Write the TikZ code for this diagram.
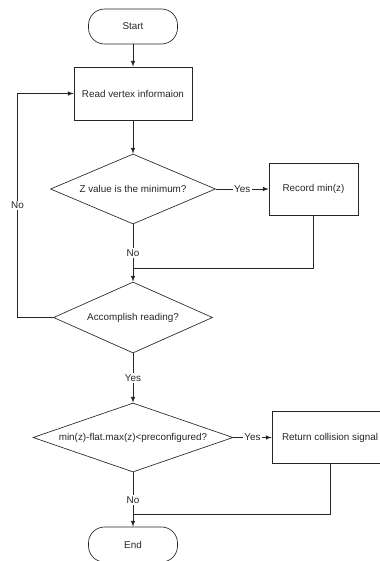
\documentclass[tikz,border=0pt]{standalone}
\usepackage{fontspec}
\setmainfont{Liberation Sans}
\usetikzlibrary{shapes.geometric, arrows, calc}

\begin{document}
\begin{tikzpicture}[x=0.75pt, y=-0.75pt, >=latex, color=black!85, line width=0.5pt,
    font=\fontsize{7.4}{9}\selectfont,
    term/.style={rectangle, draw, rounded corners=12pt, minimum width=66.75pt, minimum height=26.25pt},
    proc/.style={rectangle, draw, minimum width=88.5pt, minimum height=39.75pt},
    decide/.style={diamond, draw, inner sep=0pt},
    lbl/.style={fill=white, inner sep=1pt}]
    \useasboundingbox (0,0) rectangle (379,561);

    % Define nodes
    \node [term] (start) at (133,26.5) {Start};
    \node [proc] (read) at (133,93.5) {Read vertex informaion};
    \node [decide, aspect=2.36, minimum width=123.75pt, minimum height=52.5pt] (zmin) at (133,189) {Z value is the minimum?};
    \node [proc, minimum width=66.75pt, minimum height=39pt] (record) at (313.5,189) {Record min(z)};
    \node [decide, aspect=2.24, minimum width=119.25pt, minimum height=53.25pt] (done) at (133,317.5) {Accomplish reading?};
    \node [decide, aspect=2.9, minimum width=150pt, minimum height=51.75pt] (check) at (133,437.5) {min(z)-flat.max(z)<preconfigured?};
    \node [proc, minimum width=87pt, minimum height=39pt] (collide) at (330,437.5) {Return collision signal};
    \node [term] (end) at (133,544.5) {End};

    \coordinate (merge1) at (133,268);
    \coordinate (back) at (17.5,317.5);
    \coordinate (merge2) at (133,514);

    % Draw arrows and labels
    \draw[->] (start) -- (read);
    \draw[->] (read) -- (zmin);
    \draw[->] (zmin) -- (record) node[midway, lbl] {Yes};
    \draw (zmin) -- (merge1) node[pos=0.66, lbl] {No};
    \draw (record) |- (merge1);
    \draw[->] (merge1) -- (done);
    \draw (done) -- (back);
    \draw[->] (back) |- (read) node[pos=0.25, lbl] {No};
    \draw[->] (done) -- (check) node[midway, lbl] {Yes};
    \draw[->] (check) -- (collide) node[midway, lbl] {Yes};
    \draw (check) -- (merge2) node[pos=0.67, lbl] {No};
    \draw (collide) |- (merge2);
    \draw[->] (merge2) -- (end);
\end{tikzpicture}
\end{document}
